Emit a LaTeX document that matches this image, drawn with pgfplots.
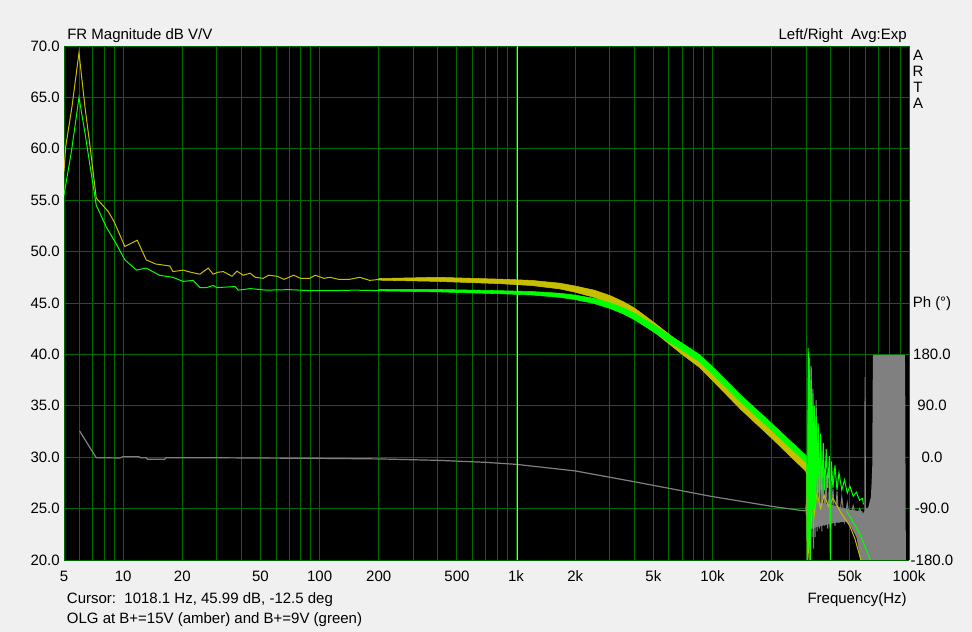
\documentclass[border=0pt]{standalone}
\usepackage{fontspec}
\setmainfont{Liberation Sans}
\usepackage{pgfplots}
\pgfplotsset{compat=1.18}

\definecolor{bg}{RGB}{240,240,240}
\definecolor{gridgreen}{RGB}{0,105,0}
\definecolor{amber}{RGB}{200,190,0}
\definecolor{lgreen}{RGB}{0,255,0}
\definecolor{pgray}{RGB}{128,128,128}
\definecolor{cursor}{RGB}{150,240,70}

\begin{document}
\begin{tikzpicture}[font=\fontsize{11.25}{13.5}\selectfont]
\fill[bg] (-48pt,-54pt) rectangle (681pt,420pt);
\useasboundingbox (-48pt,-54pt) rectangle (681pt,420pt);

\begin{axis}[
    scale only axis,
    width=633.75pt, height=385.5pt,
    xmode=log, xmin=5, xmax=100000,
    ymin=20, ymax=70,
    axis background/.style={fill=black},
    axis line style={draw=none},
    major tick length=0pt,
    xtick={5,6,7,8,9,10,20,30,40,50,60,70,80,90,100,200,300,400,500,600,700,800,900,
           1000,2000,3000,4000,5000,6000,7000,8000,9000,
           10000,20000,30000,40000,50000,60000,70000,80000,90000,100000},
    xticklabels={5,,,,,10,20,,,50,,,,,100,200,,,500,,,,,1k,2k,,,5k,,,,,10k,20k,,,50k,,,,,100k},
    ytick={20,25,30,35,40,45,50,55,60,65,70},
    yticklabels={20.0,25.0,30.0,35.0,40.0,45.0,50.0,55.0,60.0,65.0,70.0},
    grid=major,
    grid style={draw=gridgreen, line width=0.7pt},
    xticklabel style={anchor=base, inner sep=0pt, yshift=-16.25pt},
    yticklabel style={anchor=east, inner sep=0pt, xshift=-3pt},
]
% amber (B+=15V), low frequency part
\addplot[amber, line width=0.75pt] coordinates {
    (5.0,57.8) (5.1,60.2) (5.5,64.2) (5.96,69.35) (6.4,64.0) (6.79,60.2) (7.3,55.2)
    (8.4,53.9) (9.0,52.9) (10.2,50.5) (11.8,51.1) (13.1,49.2) (14.6,48.8) (17.3,48.6)
    (17.9,48.05) (20.2,48.2) (22,48.0) (24.6,47.8) (27.1,48.4) (28.7,47.8) (30.5,48.0)
    (32.4,48.05) (35.8,47.6) (38,48.1) (40.8,47.7) (44.3,47.9) (47,47.5) (51.6,47.4)
    (55,47.7) (60.8,47.6) (66,47.3) (73.8,47.7) (80,47.4) (89,47.4) (95,47.7) (105,47.4)
    (113,47.5) (125,47.3) (142,47.3) (160,47.5) (180,47.2) (203,47.3)
};
% amber band
\addplot[amber, fill=amber, line width=0.4pt] coordinates {
    (200,47.38) (400,47.5) (830,47.32) (1200,47.2) (1670,46.93) (2000,46.65) (2500,46.25)
    (3000,45.73) (3500,45.15) (4000,44.52) (5000,43.15) (6000,41.97) (7000,41.0) (8630,39.7)
    (10000,38.45) (14000,35.6) (20000,32.85) (25000,31.05) (30000,29.6)
    (30000,28.6) (25000,30.05) (20000,31.85) (14000,34.6) (10000,37.45) (8630,38.7)
    (7000,40.0) (6000,41.03) (5000,42.25) (4000,43.68) (3500,44.35) (3000,44.97) (2500,45.55)
    (2000,46.05) (1670,46.37) (1200,46.7) (830,46.88) (400,47.1) (200,47.22)
} -- cycle;
% green (B+=9V), low frequency part
\addplot[lgreen, line width=0.75pt] coordinates {
    (5.0,55.5) (5.47,59.9) (5.96,65.0) (6.4,61.5) (6.79,58.3) (7.3,54.5) (8.2,52.4)
    (9.2,50.8) (10.2,49.2) (11.7,48.2) (13.1,48.4) (15.3,47.7) (17.9,47.5) (20.2,47.1)
    (22.7,47.2) (24.6,46.5) (26.6,46.5) (28.7,46.7) (30,46.5) (37.2,46.6) (38.5,46.25)
    (44.3,46.4) (53.6,46.25) (70,46.3) (90,46.2) (117,46.2) (150,46.25) (203,46.2)
};
% green band
\addplot[lgreen, fill=lgreen, line width=0.4pt] coordinates {
    (200,46.32) (400,46.32) (830,46.2) (1200,46.12) (1670,45.95) (2000,45.77) (2500,45.45)
    (3000,45.03) (3500,44.55) (4000,44.02) (5000,42.9) (6000,41.9) (7000,41.1) (8630,39.95)
    (10000,38.8) (14000,36.0) (20000,33.3) (25000,31.55) (30000,30.15)
    (30000,29.45) (25000,30.85) (20000,32.6) (14000,35.3) (10000,38.1) (8630,39.25)
    (7000,40.4) (6000,41.2) (5000,42.2) (4000,43.38) (3500,43.95) (3000,44.47) (2500,44.95)
    (2000,45.33) (1670,45.55) (1200,45.78) (830,45.9) (400,46.08) (200,46.18)
} -- cycle;

% phase (degrees, right scale: 0 deg at 30 dB, 18 deg per dB)
\addplot[pgray, line width=0.9pt, y filter/.expression={y/18+30}] coordinates {
    (6.0,46) (7.3,-1) (8.5,-1) (9.6,-1.5) (10.0,1) (12.0,1) (12.3,-1) (13.1,-1) (13.3,-3.5)
    (16.3,-3.5) (16.5,-1) (30,-1) (50,-1.5) (100,-2) (200,-3) (400,-5.5) (700,-9)
    (1000,-12.5) (2000,-24) (4000,-43) (10000,-69) (20000,-86) (27800,-93) (29800,-94)
};
\addplot[pgray, fill=pgray, draw=none, y filter/.expression={y/18+30}] coordinates {
    (29800,-85) (32000,-75) (36000,-80) (42000,-85) (50000,-92) (58000,-95)
    (58000,-112) (50000,-112) (42000,-115) (36000,-120) (32000,-125) (29800,-100)
} -- cycle;
\addplot[pgray, line width=0.75pt, y filter/.expression={y/18+30}] coordinates {
    (29800,-93) (30200,-70) (30400,-150) (30700,140) (30900,-160) (31200,175) (31500,-150)
    (31800,160) (32100,-140) (32400,120) (32700,-160) (33000,90) (33300,-140) (33700,100)
    (34100,-130) (34500,60) (35000,-125) (35500,20) (36000,-130) (36600,-5) (37200,-120)
    (37900,-30) (38600,-125) (39300,-45) (40000,-118) (41000,-55) (42000,-120) (43000,-60)
    (44000,-115) (45500,-70) (47000,-112) (48500,-80) (50000,-110) (52000,-85) (54000,-108)
    (56000,-90) (58000,-100)
};
\addplot[pgray, fill=pgray, draw=none, y filter/.expression={y/18+30}] coordinates {
    (45000,-100) (58000,-100) (59200,-95) (59400,140) (60000,140) (60400,-90) (62000,-88)
    (64000,-70) (65000,-20) (65500,179) (95300,179) (95600,150) (96400,-185)
    (57000,-185) (54000,-140) (50000,-118) (45000,-105)
} -- cycle;

% noisy part above 30 kHz
\addplot[amber, line width=0.75pt] coordinates {
    (29800,28.7) (30200,28.3) (30400,19.5) (30700,29) (31000,19.5) (31300,27.5) (31700,23)
    (32200,27) (33000,24.5) (34000,26.5) (35500,25) (37000,26.3) (39000,25.2) (41000,26)
    (43000,25.3) (45000,24.6) (50000,23.3) (53000,22.1) (56500,20.2) (58000,19.5)
};
\addplot[lgreen, line width=0.75pt] coordinates {
    (29800,30.0) (30200,29.0) (30400,19.5) (30700,40.6) (30900,21) (31200,38.5) (31500,19.5)
    (31800,37.5) (32100,24) (32400,36.2) (32700,23) (33000,35) (33300,25) (33700,34)
    (34100,25.5) (34500,33.2) (35000,26) (35500,32.3) (36000,26.5) (36600,31.4) (37200,26.8)
    (37900,30.8) (38600,27) (39300,30.1) (39800,19.5) (40300,29.6) (41000,27) (42000,29.2)
    (43000,26.8) (44000,28.5) (45500,26.8) (47000,27.8) (48500,26.5) (50000,27.2)
    (52000,26.2) (54000,26.6) (56000,25.8) (58000,26.0) (58600,25.4)
};
\addplot[lgreen, line width=0.75pt] coordinates {
    (48000,24.8) (52300,23.6) (56000,22.6) (60000,21.2) (63800,19.9) (65000,19.5)
};

% cursor
\addplot[cursor, line width=1.1pt] coordinates {(1018.1,20) (1018.1,70)};
\end{axis}

\begin{axis}[
    scale only axis,
    width=633.75pt, height=385.5pt,
    xmode=log, xmin=5, xmax=100000,
    ymin=-180, ymax=720,
    hide x axis,
    axis y line*=right,
    axis line style={draw=none},
    major tick length=0pt,
    ytick={-180,-90,0,90,180},
    yticklabels={-180.0,-90.0,0.0,90.0,180.0},
    yticklabel style={anchor=center, inner sep=0pt, xshift=17.25pt},
]
\end{axis}

\node[anchor=base west, inner sep=0pt] at (2.25pt,390pt) {FR Magnitude dB V/V};
\node[anchor=base east, inner sep=0pt] at (632.25pt,390pt) {Left/Right\ \ Avg:Exp};
\node[anchor=center, inner sep=0pt] at (640.5pt,378.75pt) {A};
\node[anchor=center, inner sep=0pt] at (640.5pt,366.75pt) {R};
\node[anchor=center, inner sep=0pt] at (640.5pt,354.75pt) {T};
\node[anchor=center, inner sep=0pt] at (640.5pt,342.75pt) {A};
\node[anchor=center, inner sep=0pt] at (651pt,192pt) {Ph (°)};
\node[anchor=base west, inner sep=0pt] at (2pt,-33pt) {Cursor:\ \ 1018.1 Hz, 45.99 dB, -12.5 deg};
\node[anchor=base west, inner sep=0pt] at (2pt,-48pt) {OLG at B+=15V (amber) and B+=9V (green)};
\node[anchor=base east, inner sep=0pt] at (632.25pt,-32.5pt) {Frequency(Hz)};
\end{tikzpicture}
\end{document}
